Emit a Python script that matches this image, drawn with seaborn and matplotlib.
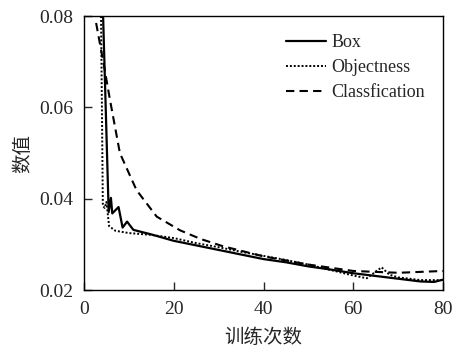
import numpy as np
import pandas as pd
import matplotlib
matplotlib.use("Agg")
import matplotlib.pyplot as plt
import seaborn as sns

# ---- data ----
box_epoch = [4.2, 5.5, 6.0, 6.3, 7.7, 8.6, 9.6, 11, 15, 20, 25, 30, 35, 40,
             45, 50, 55, 60, 65, 70, 75, 78, 80]
box_val = [0.082, 0.0371, 0.0402, 0.0368, 0.0382, 0.0337, 0.0350, 0.0332, 0.0322,
           0.0308, 0.0298, 0.0288, 0.0278, 0.0268, 0.0261, 0.0252, 0.0245, 0.0237,
           0.0231, 0.0225, 0.0219, 0.0218, 0.0223]

obj_epoch = [3.8, 4.2, 4.6, 5.0, 5.6, 7, 10, 15, 20, 25, 30, 35, 40, 45, 50,
             55, 60, 63, 66.3, 68, 70, 75, 80]
obj_val = [0.080, 0.0385, 0.0380, 0.0393, 0.0340, 0.0330, 0.0325, 0.0321, 0.0314,
           0.0303, 0.0294, 0.0284, 0.0275, 0.0266, 0.0256, 0.0244, 0.0232, 0.0226,
           0.0250, 0.0234, 0.0228, 0.0222, 0.0222]

cls_epoch = [2.7, 4.5, 5.8, 8, 11.7, 16.2, 21.4, 26, 31, 40, 50, 60, 70, 80]
cls_val = [0.0785, 0.0689, 0.0616, 0.0500, 0.0419, 0.0361, 0.0331, 0.0312, 0.0296,
           0.0274, 0.0256, 0.0242, 0.0238, 0.0242]

x_ticks = [0, 20, 40, 60, 80]
y_ticks = [0.02, 0.04, 0.06, 0.08]

# ---- style ----
sns.set_style("ticks")
plt.rcParams['font.family'] = ['Liberation Serif', 'Noto Sans CJK SC']
plt.rcParams['xtick.direction'] = 'in'
plt.rcParams['ytick.direction'] = 'in'

fig = plt.figure(figsize=(4.54, 3.5), dpi=100)
ax = fig.add_axes([0.185, 0.171, 0.791, 0.783])

series = [("Box", box_epoch, box_val, '-', 1.6),
          ("Objectness", obj_epoch, obj_val, (0, (1, 1)), 1.4),
          ("Classfication", cls_epoch, cls_val, (0, (4, 2.5)), 1.5)]

for name, xs, ys, ls, lw in series:
    df = pd.DataFrame({"epoch": xs, "value": ys})
    sns.lineplot(data=df, x="epoch", y="value", ax=ax, sort=False,
                 color="black", linestyle=ls, linewidth=lw, label=name)

ax.set_xlim(0, 80)
ax.set_ylim(0.02, 0.08)
ax.set_xticks(x_ticks)
ax.set_yticks(y_ticks)
ax.set_xticklabels([str(t) for t in x_ticks], fontsize=14)
ax.set_yticklabels([f"{t:.2f}" for t in y_ticks], fontsize=14)
ax.tick_params(length=6, width=1, pad=8)

for s in ax.spines.values():
    s.set_color("black")
    s.set_linewidth(1)

ax.set_xlabel("训练次数", fontsize=14, family=['Noto Sans CJK SC'], labelpad=6)
ax.set_ylabel("数值", fontsize=14, family=['Noto Sans CJK SC'], labelpad=4)

leg = ax.legend(loc="upper right", frameon=False, fontsize=13,
                handlelength=2.2, handletextpad=0.3, borderaxespad=0.6,
                labelspacing=0.45)

plt.savefig("out.png", dpi=100)
